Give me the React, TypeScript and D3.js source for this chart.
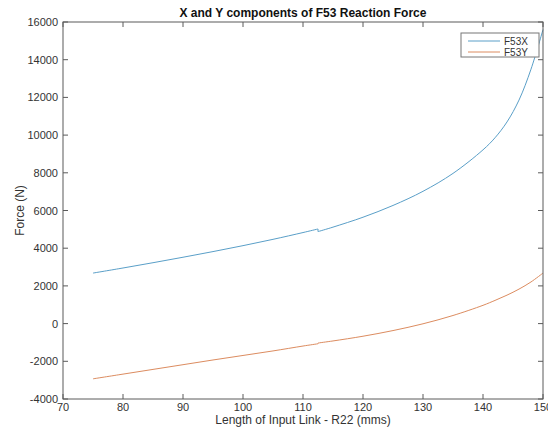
import React from "react";
import * as d3 from "d3";

const xTicks = [70, 80, 90, 100, 110, 120, 130, 140, 150];
const yTicks = [-4000, -2000, 0, 2000, 4000, 6000, 8000, 10000, 12000, 14000, 16000];

// input link length; the solution jumps at 112.5 mm (point listed twice)
const lengthR22 = [75, 80, 85, 90, 95, 100, 105, 110, 112.5, 112.5, 115, 120, 125, 130, 135, 140, 142, 144, 146, 148, 150];
const f53x = [2680, 2950, 3230, 3520, 3820, 4135, 4470, 4830, 5020, 4880, 5118, 5643, 6268, 7018, 7968, 9218, 9858, 10698, 11858, 13498, 15598];
const f53y = [-2930, -2680, -2430, -2180, -1930, -1690, -1450, -1190, -1070, -1030, -920, -670, -370, -10, 430, 970, 1230, 1510, 1830, 2210, 2680];
const jumpIndex = 9;

const seriesNames = ["F53X", "F53Y"];
const seriesColors = ["#5a9fc8", "#dc8c60"];

const W = 548;
const H = 431;
const M = { left: 63, right: 543, top: 22, bottom: 399 };

export default function App() {
  const x = d3.scaleLinear().domain([70, 150]).range([M.left, M.right]);
  const y = d3.scaleLinear().domain([-4000, 16000]).range([M.bottom, M.top]);
  const line = d3
    .line<[number, number]>()
    .x((d) => x(d[0]))
    .y((d) => y(d[1]))
    .curve(d3.curveCatmullRom.alpha(0.5));

  const pathFor = (vals: number[]) => {
    const pts = vals.map((v, i) => [lengthR22[i], v] as [number, number]);
    const a = pts.slice(0, jumpIndex);
    const b = pts.slice(jumpIndex);
    return (line(a) || "") + " " + (line(b) || "") + ` M${x(a[a.length - 1][0])},${y(a[a.length - 1][1])} L${x(b[0][0])},${y(b[0][1])}`;
  };

  const font = "'Liberation Sans', Arial, Helvetica, sans-serif";
  const axisColor = "#5a5a5a";
  const textColor = "#333";
  const tl = 5;

  return (
    <svg
      width={W}
      height={H}
      style={{ position: "absolute", left: 0, top: 0, background: "#fff" }}
      fontFamily={font}
    >
      <rect x={0} y={0} width={W} height={H} fill="#fff" />
      {/* data lines */}
      <path d={pathFor(f53x)} fill="none" stroke={seriesColors[0]} strokeWidth={1} />
      <path d={pathFor(f53y)} fill="none" stroke={seriesColors[1]} strokeWidth={1} />

      {/* box */}
      <rect
        x={M.left}
        y={M.top}
        width={M.right - M.left}
        height={M.bottom - M.top}
        fill="none"
        stroke={axisColor}
        strokeWidth={1}
      />
      {/* x ticks */}
      {xTicks.map((t) => (
        <g key={"x" + t}>
          <line x1={x(t)} x2={x(t)} y1={M.bottom} y2={M.bottom - tl} stroke={axisColor} />
          <line x1={x(t)} x2={x(t)} y1={M.top} y2={M.top + tl} stroke={axisColor} />
          <text x={x(t)} y={M.bottom + 12} textAnchor="middle" fontSize={11} fill={textColor}>
            {t}
          </text>
        </g>
      ))}
      {/* y ticks */}
      {yTicks.map((t) => (
        <g key={"y" + t}>
          <line x1={M.left} x2={M.left + tl} y1={y(t)} y2={y(t)} stroke={axisColor} />
          <line x1={M.right} x2={M.right - tl} y1={y(t)} y2={y(t)} stroke={axisColor} />
          <text x={M.left - 5} y={y(t) + 4} textAnchor="end" fontSize={11} fill={textColor}>
            {t}
          </text>
        </g>
      ))}

      {/* title */}
      <text x={(M.left + M.right) / 2} y={17} textAnchor="middle" fontSize={12} fontWeight="bold" fill="#111">
        X and Y components of F53 Reaction Force
      </text>
      {/* axis labels */}
      <text x={(M.left + M.right) / 2} y={424} textAnchor="middle" fontSize={12} fill={textColor}>
        Length of Input Link - R22 (mms)
      </text>
      <text
        transform={`translate(24, ${(M.top + M.bottom) / 2}) rotate(-90)`}
        textAnchor="middle"
        fontSize={12}
        fill={textColor}
      >
        Force (N)
      </text>

      {/* legend */}
      <rect x={461} y={33} width={78} height={24} fill="#fff" stroke="#777" strokeWidth={1} />
      {seriesNames.map((n, i) => (
        <g key={n}>
          <line x1={468} x2={500} y1={41 + i * 11} y2={41 + i * 11} stroke={seriesColors[i]} strokeWidth={1} />
          <text x={504} y={44.5 + i * 11} fontSize={10} fill={textColor}>
            {n}
          </text>
        </g>
      ))}
    </svg>
  );
}
